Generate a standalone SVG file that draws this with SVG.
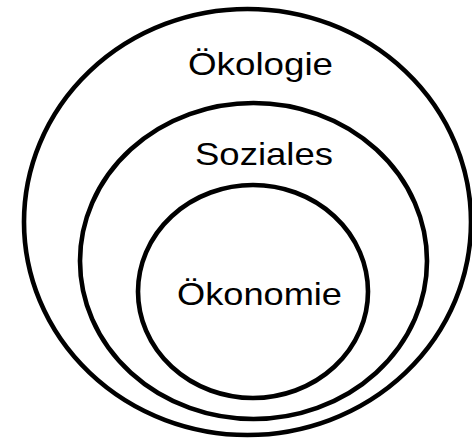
<svg xmlns="http://www.w3.org/2000/svg" width="472" height="441" viewBox="0 0 472 441">
<style>
.ring{fill:none;stroke:#000;stroke-width:4.6}
.lbl{font-family:"Liberation Sans",Arial,sans-serif;font-size:32px;fill:#000}
</style>
<rect width="472" height="441" fill="#fff"/>
<g id="oekologie">
<ellipse class="ring" cx="247.5" cy="222" rx="223.5" ry="213"/>
<text class="lbl" x="188" y="75" textLength="145" lengthAdjust="spacingAndGlyphs">Ökologie</text>
</g>
<g id="soziales">
<ellipse class="ring" cx="253.5" cy="261" rx="173.5" ry="158"/>
<text class="lbl" x="195" y="165" textLength="138" lengthAdjust="spacingAndGlyphs">Soziales</text>
</g>
<g id="oekonomie">
<ellipse class="ring" cx="253" cy="291.5" rx="115" ry="106.5"/>
<text class="lbl" x="177" y="305" textLength="165" lengthAdjust="spacingAndGlyphs">Ökonomie</text>
</g>
<g id="connectors"/>
</svg>
